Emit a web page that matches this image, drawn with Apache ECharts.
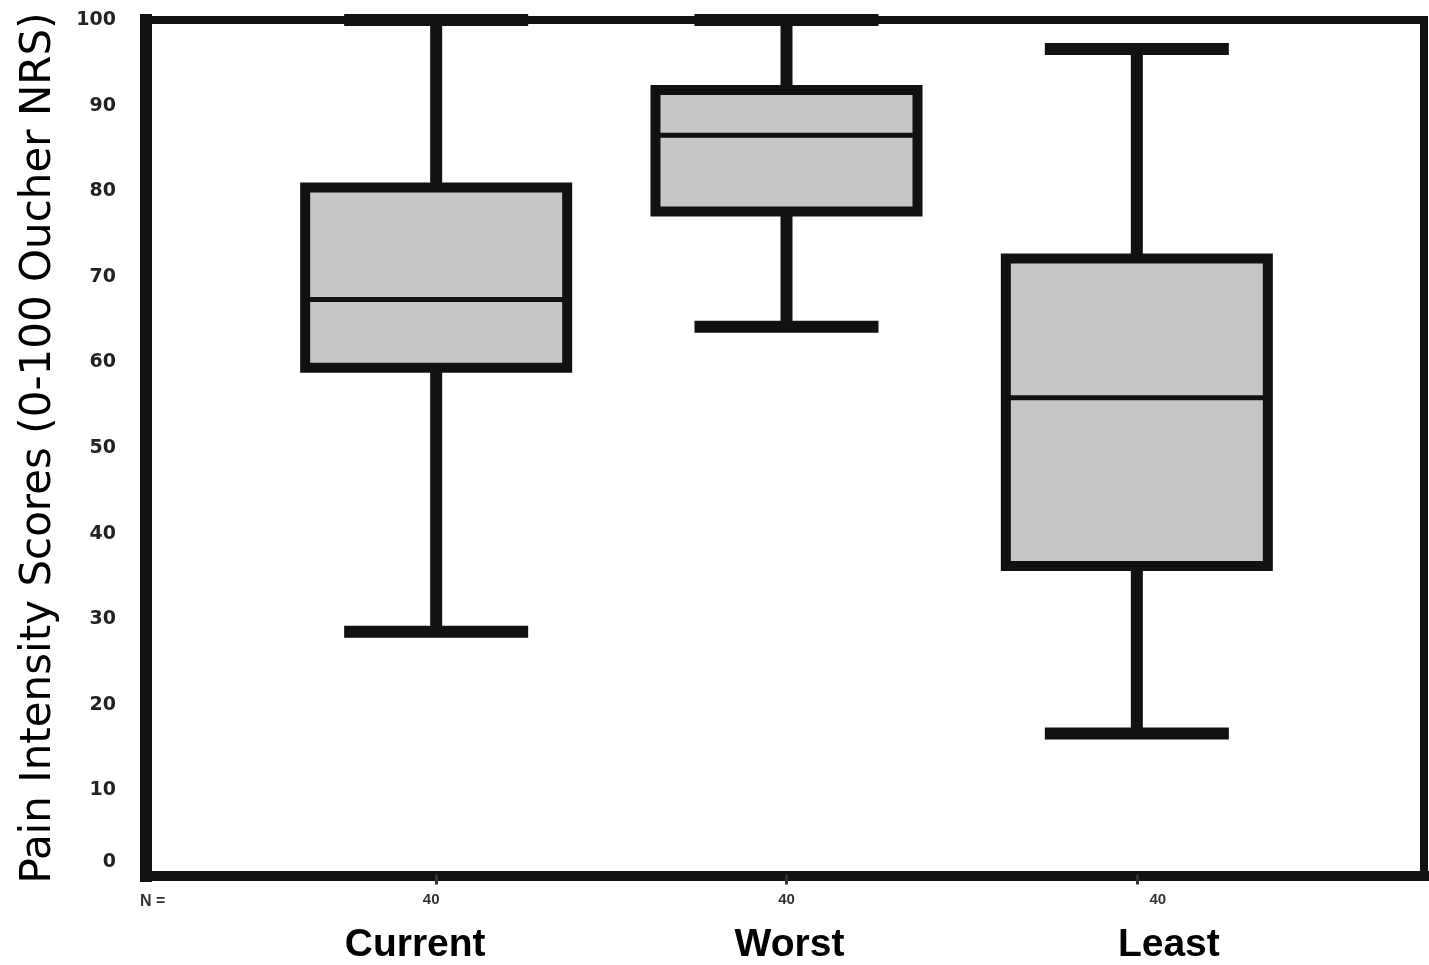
<!DOCTYPE html>
<html><head><meta charset="utf-8">
<script src="https://cdn.jsdelivr.net/npm/echarts@6/dist/echarts.min.js"></script>
<style>html,body{margin:0;padding:0;background:#fff;} #c{width:1429px;height:965px;}</style>
</head><body><div id="c"></div>
<script>
// ---- data ----
const categories = ['Current', 'Worst', 'Least'];
const nCounts = [40, 40, 40];
const lowWhisker = [28.4, 64.1, 16.5];
const q1 = [59.3, 77.6, 36.1];
const median = [67.3, 86.5, 55.8];
const q3 = [80.4, 91.8, 72.1];
const highWhisker = [100, 100, 96.6];
const yMin = 0, yMax = 100, yStep = 10;
const yTitle = 'Pain Intensity Scores (0-100 Oucher NRS)';
const nLabel = 'N =';

// ---- style ----
const INK = '#111';
const FILL = '#c6c6c6';
const nShift = [-5, 0, 21];
const nameShift = [-21, 3, 32];
function pad(d) { return d >= 0 ? [0, 0, 0, 2 * d] : [0, -2 * d, 0, 0]; }

// whiskers + caps (inner part hidden beneath the box)
const whiskerRows = categories.map((c, i) => [lowWhisker[i], median[i], median[i], median[i], highWhisker[i]]);
// box body
const boxRows = categories.map((c, i) => [q1[i], q1[i], q1[i], q3[i], q3[i]]);
// median line
const medRows = categories.map((c, i) => [median[i], median[i], median[i], median[i], median[i]]);

const rich = {};
categories.forEach((c, i) => {
  rich['n' + i] = { fontSize: 15, fontWeight: 'bold', fontFamily: 'Liberation Sans', color: '#333', lineHeight: 22, padding: pad(nShift[i]) };
  rich['c' + i] = { fontSize: 39, fontWeight: 'bold', fontFamily: 'Liberation Sans', color: '#000', lineHeight: 70, padding: pad(nameShift[i]) };
});

const chart = echarts.init(document.getElementById('c'));
const hiddenCat = (g) => ({ gridIndex: g, type: 'category', data: categories, show: false });
chart.setOption({
  animation: false,
  backgroundColor: '#fff',
  grid: [
    { left: 146, right: 5, top: 20, bottom: 89, show: true, borderColor: INK, borderWidth: 8, backgroundColor: 'transparent' },
    { left: 261, right: 117, top: 20, bottom: 89 }
  ],
  xAxis: [
    { gridIndex: 0, type: 'value', min: 0, max: 1,
      axisLine: { show: true, lineStyle: { color: INK, width: 10, cap: 'square' } },
      axisTick: { show: false }, axisLabel: { show: false }, splitLine: { show: false } },
    { gridIndex: 1, type: 'category', data: categories,
      axisLine: { show: false },
      axisTick: { show: true, alignWithLabel: true, length: 10, lineStyle: { color: '#333', width: 3 } },
      axisLabel: { margin: 14, formatter: (v, i) => '{n' + i + '|' + nCounts[i] + '}\n{c' + i + '|' + v + '}', rich: rich },
      splitLine: { show: false } },
    hiddenCat(1),
    hiddenCat(1)
  ],
  yAxis: [
    { gridIndex: 0, type: 'value', min: yMin, max: yMax, interval: yStep,
      name: yTitle, nameLocation: 'middle', nameRotate: 90, nameGap: 86,
      nameTextStyle: { fontSize: 42, fontFamily: 'DejaVu Sans', color: '#000' },
      axisLine: { show: true, lineStyle: { color: INK, width: 12, cap: 'square' } },
      axisTick: { show: false },
      axisLabel: { margin: 30, fontSize: 19, fontWeight: 'bold', fontFamily: 'DejaVu Sans', color: '#222',
        formatter: (v) => v === 0 ? '{z|0}' : String(v),
        rich: { z: { fontSize: 19, fontWeight: 'bold', fontFamily: 'DejaVu Sans', color: '#222', padding: [0, 0, 28, 0] } } },
      splitLine: { show: false } },
    { gridIndex: 1, type: 'value', min: yMin, max: yMax, show: false }
  ],
  graphic: [
    { type: 'text', left: 140, top: 894, style: { text: nLabel, fontSize: 16, fontWeight: 'bold', fontFamily: 'Liberation Sans', fill: '#333' } }
  ],
  series: [
    { type: 'boxplot', xAxisIndex: 1, yAxisIndex: 1, data: whiskerRows, boxWidth: [184, 184], z: 2, silent: true,
      itemStyle: { color: FILL, borderColor: INK, borderWidth: 12 }, emphasis: { disabled: true } },
    { type: 'boxplot', xAxisIndex: 2, yAxisIndex: 1, data: boxRows, boxWidth: [262, 262], z: 3, silent: true,
      itemStyle: { color: FILL, borderColor: INK, borderWidth: 10 }, emphasis: { disabled: true } },
    { type: 'boxplot', xAxisIndex: 3, yAxisIndex: 1, data: medRows, boxWidth: [262, 262], z: 4, silent: true,
      itemStyle: { color: 'rgba(0,0,0,0)', borderColor: INK, borderWidth: 5 }, emphasis: { disabled: true } }
  ]
});
</script>
</body></html>
